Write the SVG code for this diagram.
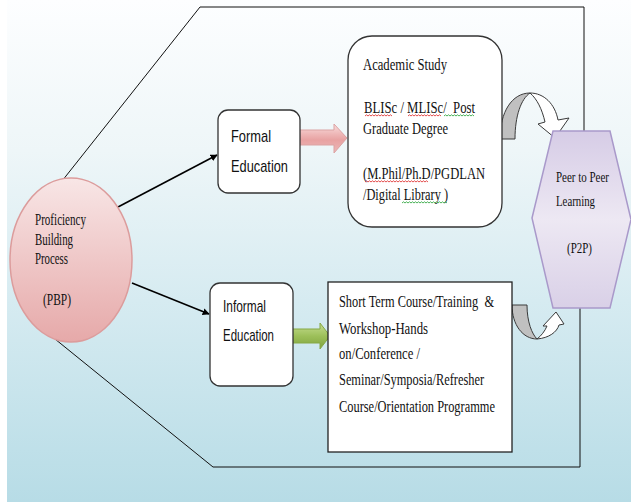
<svg xmlns="http://www.w3.org/2000/svg" width="631" height="502" viewBox="0 0 631 502">
<defs>
<linearGradient id="bg" x1="0" y1="0" x2="0" y2="1">
<stop offset="0" stop-color="#fdfeff"/>
<stop offset="0.3" stop-color="#eef6f8"/>
<stop offset="0.6" stop-color="#d6ebf1"/>
<stop offset="1" stop-color="#b7dce6"/>
</linearGradient>
<linearGradient id="pink" x1="0" y1="0" x2="0" y2="1">
<stop offset="0" stop-color="#f8e6e6"/>
<stop offset="1" stop-color="#e6a9a9"/>
</linearGradient>
<linearGradient id="lav" x1="0" y1="0" x2="0" y2="1">
<stop offset="0" stop-color="#d6cce6"/>
<stop offset="0.5" stop-color="#ede8f3"/>
<stop offset="1" stop-color="#d9d0e7"/>
</linearGradient>
<linearGradient id="parrow" x1="0" y1="0" x2="0" y2="1">
<stop offset="0" stop-color="#f9dcdc"/>
<stop offset="0.55" stop-color="#e8a2a2"/>
<stop offset="1" stop-color="#edb8b8"/>
</linearGradient>
<linearGradient id="garrow" x1="0" y1="0" x2="0" y2="1">
<stop offset="0" stop-color="#c6de92"/>
<stop offset="0.5" stop-color="#9dc05a"/>
<stop offset="1" stop-color="#7ea23c"/>
</linearGradient>
<marker id="ah" viewBox="0 0 10 10" refX="9" refY="5" markerWidth="7" markerHeight="7" orient="auto" markerUnits="userSpaceOnUse">
<path d="M0,0 L10,5 L0,10 Z" fill="#000"/>
</marker>
</defs>
<style>
.serif{font-family:"Liberation Serif","Times New Roman",serif;font-size:16px;fill:#111}
.hex{font-size:14.5px}
.sans{font-family:"Liberation Sans",Arial,sans-serif;font-size:17px;fill:#111}
.box{fill:#fff;stroke:#333;stroke-width:1.3}
.ln{fill:none;stroke:#111;stroke-width:1}
.arw{fill:none;stroke:#000;stroke-width:1.6;marker-end:url(#ah)}
.red{fill:none;stroke:#e03a3a;stroke-width:0.9}
.grn{fill:none;stroke:#35a845;stroke-width:0.9}
.gray{fill:#c0c0c0;stroke:#3a3a3a;stroke-width:1}
.wht{fill:#fff;stroke:#3a3a3a;stroke-width:1}
</style>
<rect x="0" y="0" width="631" height="502" fill="#fff"/>
<rect x="7" y="0" width="624" height="502" fill="url(#bg)"/>

<g id="connectors">
<polyline class="ln" points="64,178.5 200,7 584,7 584,131"/>
<polyline class="ln" points="55,339 213,467 580,467 580,308"/>
<line class="arw" x1="118" y1="207" x2="217" y2="155"/>
<line class="arw" x1="132" y1="283" x2="209" y2="314"/>
<path d="M298,130 L334,130 L334,124 L347,138 L334,153 L334,145 L298,145 Z" fill="url(#parrow)" stroke="#dba3a3" stroke-width="1"/>
<path d="M292,329 L320,329 L320,323 L330,336 L320,349 L320,343 L292,343 Z" fill="url(#garrow)" stroke="#86a845" stroke-width="1"/>
<g id="curve-top">
<path class="gray" d="M500,139 C500,112 512,93 530,93 C521,99 515,116 515,139 Z"/>
<path class="wht" d="M530,93 C544,93 555,104 558,120 L569,118 L555,138 L538,124 L545,122 C542,109 537,99 530,93 Z"/>
</g>
<g id="curve-bottom">
<path class="gray" d="M512,305 L527,305 C527,322 532,334 537,339 C523,339 512,325 512,305 Z"/>
<path class="wht" d="M537,339 C549,338 557,332 559,325 L564,324 L556,312 L543,326 L547,326 C545,331 541,336 537,339 Z"/>
</g>
</g>

<g id="pbp">
<ellipse cx="71" cy="260" rx="61" ry="82" fill="url(#pink)" stroke="#dc9c9c" stroke-width="1.5"/>
<text class="serif" x="35" y="225" textLength="51" lengthAdjust="spacingAndGlyphs">Proficiency</text>
<text class="serif" x="35" y="245" textLength="38" lengthAdjust="spacingAndGlyphs">Building</text>
<text class="serif" x="35" y="264" textLength="33" lengthAdjust="spacingAndGlyphs">Process</text>
<text class="serif" x="43" y="305" textLength="28" lengthAdjust="spacingAndGlyphs">(PBP)</text>
</g>

<g id="formal">
<rect class="box" x="218" y="110" width="82" height="83" rx="10"/>
<text class="sans" x="231" y="142" textLength="40" lengthAdjust="spacingAndGlyphs">Formal</text>
<text class="sans" x="231" y="172" textLength="57" lengthAdjust="spacingAndGlyphs">Education</text>
</g>

<g id="informal">
<rect class="box" x="210" y="283" width="83" height="103" rx="10"/>
<text class="sans" x="223" y="312" textLength="43" lengthAdjust="spacingAndGlyphs">Informal</text>
<text class="sans" x="223" y="341" textLength="51" lengthAdjust="spacingAndGlyphs">Education</text>
</g>

<g id="academic">
<rect class="box" x="348" y="36" width="154" height="191" rx="24"/>
<text class="serif" x="363" y="70" textLength="84" lengthAdjust="spacingAndGlyphs">Academic Study</text>
<text class="serif" x="364" y="113" textLength="111" lengthAdjust="spacingAndGlyphs" xml:space="preserve">BLISc / MLISc/  Post</text>
<text class="serif" x="363" y="134" textLength="85" lengthAdjust="spacingAndGlyphs">Graduate Degree</text>
<text class="serif" x="363" y="179" textLength="122" lengthAdjust="spacingAndGlyphs">(M.Phil/Ph.D/PGDLAN</text>
<text class="serif" x="363" y="200" textLength="85" lengthAdjust="spacingAndGlyphs">/Digital Library )</text>
<path class="red" d="M365,116 l1.5,-1.2 1.5,1.2 1.5,-1.2 1.5,1.2 1.5,-1.2 1.5,1.2 1.5,-1.2 1.5,1.2 1.5,-1.2 1.5,1.2 1.5,-1.2 1.5,1.2 1.5,-1.2 1.5,1.2 1.5,-1.2 1.5,1.2 1.5,-1.2 1.5,1.2"/>
<path class="red" d="M408,116 l1.5,-1.2 1.5,1.2 1.5,-1.2 1.5,1.2 1.5,-1.2 1.5,1.2 1.5,-1.2 1.5,1.2 1.5,-1.2 1.5,1.2 1.5,-1.2 1.5,1.2 1.5,-1.2 1.5,1.2 1.5,-1.2 1.5,1.2 1.5,-1.2 1.5,1.2 1.5,-1.2 1.5,1.2 1.5,-1.2 1.5,1.2"/>
<path class="grn" d="M444,116 l1.5,-1.2 1.5,1.2 1.5,-1.2 1.5,1.2 1.5,-1.2 1.5,1.2 1.5,-1.2 1.5,1.2 1.5,-1.2 1.5,1.2 1.5,-1.2 1.5,1.2 1.5,-1.2 1.5,1.2 1.5,-1.2 1.5,1.2 1.5,-1.2 1.5,1.2 1.5,-1.2 1.5,1.2"/>
<path class="red" d="M365,182 l1.5,-1.2 1.5,1.2 1.5,-1.2 1.5,1.2 1.5,-1.2 1.5,1.2 1.5,-1.2 1.5,1.2 1.5,-1.2 1.5,1.2 1.5,-1.2 1.5,1.2 1.5,-1.2 1.5,1.2 1.5,-1.2 1.5,1.2 1.5,-1.2 1.5,1.2 1.5,-1.2 1.5,1.2 1.5,-1.2 1.5,1.2 1.5,-1.2 1.5,1.2 1.5,-1.2 1.5,1.2 1.5,-1.2 1.5,1.2 1.5,-1.2 1.5,1.2 1.5,-1.2 1.5,1.2 1.5,-1.2 1.5,1.2 1.5,-1.2 1.5,1.2 1.5,-1.2 1.5,1.2 1.5,-1.2 1.5,1.2 1.5,-1.2 1.5,1.2"/>
<path class="grn" d="M402,203 l1.5,-1.2 1.5,1.2 1.5,-1.2 1.5,1.2 1.5,-1.2 1.5,1.2 1.5,-1.2 1.5,1.2 1.5,-1.2 1.5,1.2 1.5,-1.2 1.5,1.2 1.5,-1.2 1.5,1.2 1.5,-1.2 1.5,1.2 1.5,-1.2 1.5,1.2 1.5,-1.2 1.5,1.2 1.5,-1.2 1.5,1.2 1.5,-1.2 1.5,1.2 1.5,-1.2 1.5,1.2 1.5,-1.2 1.5,1.2 1.5,-1.2 1.5,1.2"/>
</g>

<g id="shortterm">
<rect x="328" y="282" width="184" height="170" fill="#fff" stroke="#222" stroke-width="1.3"/>
<text class="serif" x="339" y="307" textLength="155" lengthAdjust="spacingAndGlyphs" xml:space="preserve">Short Term Course/Training  &amp;</text>
<text class="serif" x="339" y="334" textLength="89" lengthAdjust="spacingAndGlyphs">Workshop-Hands</text>
<text class="serif" x="339" y="359" textLength="81" lengthAdjust="spacingAndGlyphs">on/Conference /</text>
<text class="serif" x="339" y="385" textLength="145" lengthAdjust="spacingAndGlyphs">Seminar/Symposia/Refresher</text>
<text class="serif" x="339" y="412" textLength="156" lengthAdjust="spacingAndGlyphs">Course/Orientation Programme</text>
</g>

<g id="p2p">
<polygon points="553,131 610,131 631,219.5 610,308 553,308 532,218" fill="url(#lav)" stroke="#a999ca" stroke-width="1.5"/>
<text class="serif hex" x="556" y="182" textLength="53" lengthAdjust="spacingAndGlyphs">Peer to Peer</text>
<text class="serif hex" x="556" y="206" textLength="39" lengthAdjust="spacingAndGlyphs">Learning</text>
<text class="serif hex" x="567" y="253" textLength="25" lengthAdjust="spacingAndGlyphs">(P2P)</text>
</g>
</svg>
